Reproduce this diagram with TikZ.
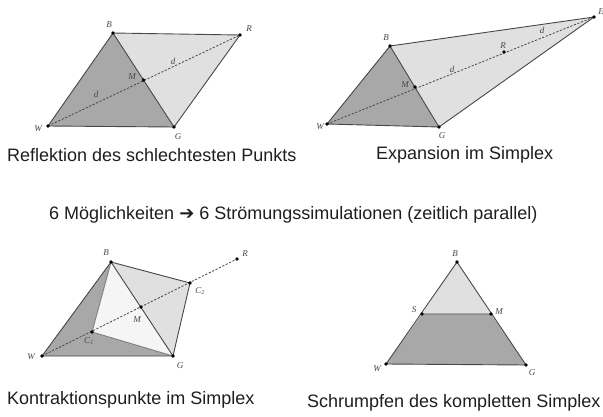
\documentclass[tikz,border=0pt]{standalone}
\usepackage{fontspec}
\setmainfont{Liberation Sans}
\newfontfamily\lblfont{Liberation Serif}
\newfontfamily\symfont{DejaVu Sans}
\usetikzlibrary{positioning}

\definecolor{dunkel}{HTML}{A8A8A8}
\definecolor{hell}{HTML}{E0E0E0}
\definecolor{weiss}{HTML}{F5F5F5}
\definecolor{kante}{HTML}{474747}
\definecolor{schrift}{HTML}{1E1E1E}

\begin{document}
\begin{tikzpicture}[x=1pt, y=-1pt, pt/.style={circle, fill=black, inner sep=0pt, minimum size=3.6pt}, lbl/.style={font=\lblfont\itshape\fontsize{9}{10}\selectfont, inner sep=0pt, text=kante}, rand/.style={draw=kante, line width=0.9pt, line join=round}, diag/.style={draw=kante, line width=0.8pt, dash pattern=on 2.2pt off 1.6pt}, capt/.style={anchor=west, inner sep=0pt, text=schrift, font=\fontsize{18}{21}\selectfont}]
	\useasboundingbox (0,0) rectangle (603,416);
	% Reflexion
	\coordinate (W1) at (48,126); \coordinate (B1) at (113,33); \coordinate (G1) at (174,127);
	\coordinate (M1) at (143.5,80); \coordinate (R1) at (240,35);
	\fill[dunkel] (W1) -- (B1) -- (G1) -- cycle;
	\fill[hell] (B1) -- (R1) -- (G1) -- cycle;
	\draw[rand] (W1) -- (B1) -- (R1) -- (G1) -- cycle (B1) -- (G1);
	\draw[diag] (W1) -- (R1);
	% Expansion
	\coordinate (W2) at (327,124); \coordinate (B2) at (390,46); \coordinate (G2) at (439,127);
	\coordinate (M2) at (415,87); \coordinate (R2) at (504,52); \coordinate (E2) at (594,17);
	\fill[dunkel] (W2) -- (B2) -- (G2) -- cycle;
	\fill[hell] (B2) -- (E2) -- (G2) -- cycle;
	\draw[rand] (W2) -- (B2) -- (E2) -- (G2) -- cycle (B2) -- (G2);
	\draw[diag] (W2) -- (E2);
	% Kontraktion
	\coordinate (W3) at (42,356); \coordinate (B3) at (111,262); \coordinate (G3) at (173,356);
	\coordinate (M3) at (141,307); \coordinate (R3) at (237,259);
	\coordinate (C13) at (92,332); \coordinate (C23) at (190,283);
	\fill[dunkel] (W3) -- (B3) -- (G3) -- cycle;
	\fill[hell] (B3) -- (C23) -- (G3) -- cycle;
	\fill[weiss] (B3) -- (C13) -- (G3) -- cycle;
	\draw[rand] (W3) -- (B3) -- (C23) -- (G3) -- cycle (B3) -- (G3);
	\draw[rand, draw=kante!70] (B3) -- (C13) -- (G3);
	\draw[diag] (W3) -- (R3);
	% Schrumpfen
	\coordinate (W4) at (386,364); \coordinate (B4) at (457,262); \coordinate (G4) at (526,365);
	\coordinate (S4) at (422,314); \coordinate (M4) at (491,314);
	\fill[hell] (B4) -- (S4) -- (M4) -- cycle;
	\fill[dunkel] (S4) -- (M4) -- (G4) -- (W4) -- cycle;
	\draw[rand] (W4) -- (B4) -- (G4) -- cycle (S4) -- (M4);
	% Punkte
	\foreach \p in {W1,B1,G1,M1,R1,W2,B2,G2,M2,R2,E2,W3,B3,G3,M3,R3,C13,C23,W4,B4,G4,S4,M4}
		\node[pt] (d\p) at (\p) {};
	% Beschriftungen
	\foreach \n/\x/\y/\t in {lW1/38/129/W, lB1/109/25/B, lG1/178/137/G, lM1/132/77/M, lR1/249/29/R, ld1/96/94/d, le1/173/61/d,
		lW2/320/127/W, lB2/386/38/B, lG2/442/136/G, lM2/405/85/M, lR2/503/46/R, lE2/601/12/E, ld2/452/69/d, le2/542/30/d,
		lW3/31/357/W, lB3/106/253/B, lG3/180/366/G, lM3/137/320/M, lR3/245/254/R,
		lW4/377/369/W, lB4/455/254/B, lG4/532/373/G, lS4/414/310/S, lM4/499/312/M}
		\node[lbl] (\n) at (\x,\y) {\t};
	\node[lbl] (lC13) at (89,341) {C\textsubscript{1}};
	\node[lbl] (lC23) at (200,291) {C\textsubscript{2}};
	% Texte
	\node[capt] (t1) at (7,155) {Reflektion des schlechtesten Punkts};
	\node[capt] (t2) at (376,155) {Expansion im Simplex};
	\node[capt] (t3) at (49,215) {6 Möglichkeiten {\symfont ➔} 6 Strömungssimulationen (zeitlich parallel)};
	\node[capt] (t4) at (7,400) {Kontraktionspunkte im Simplex};
	\node[capt] (t5) at (307,403) {Schrumpfen des kompletten Simplex};
\end{tikzpicture}
\end{document}
